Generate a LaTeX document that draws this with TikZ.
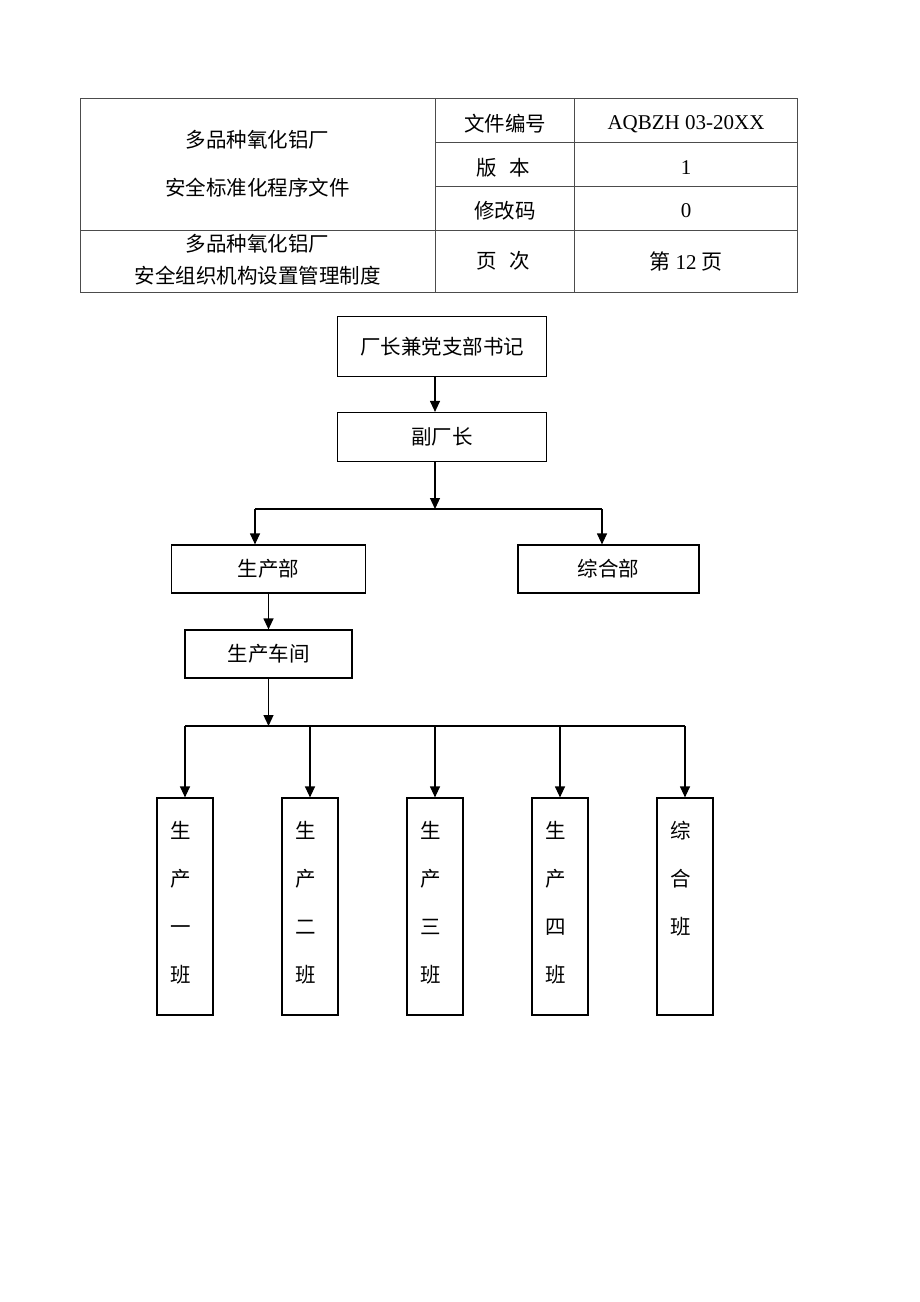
\documentclass[tikz,border=0pt]{standalone}
\usepackage{fontspec}
\setmainfont{Liberation Serif}
\newfontfamily\cjk{Noto Sans CJK SC}
\usetikzlibrary{arrows.meta}
\begin{document}
\begin{tikzpicture}[x=1pt,y=-1pt,
  box/.style={draw=black,line width=1.2pt,inner sep=0pt,font=\cjk\fontsize{20.5}{24}\selectfont},
  vbox/.style={draw=black,line width=1.2pt,inner sep=0pt,minimum width=56pt,minimum height=217pt},
  vtext/.style={anchor=north,inner sep=0pt,align=center,font=\cjk\fontsize{20.5}{48}\selectfont},
  arr/.style={line width=1.2pt,-{Triangle[length=11pt,width=10pt]}},
  conn/.style={line width=1.2pt},
  tline/.style={draw=black!70,line width=0.9pt},
  ttext/.style={inner sep=0pt,font=\cjk\fontsize{20.5}{24}\selectfont},
  ltext/.style={inner sep=0pt,font=\fontsize{21}{24}\selectfont}]
\useasboundingbox[fill=white] (0,0) rectangle (920,1302);

% header table
\draw[tline] (80,98) rectangle (797,292);
\draw[tline] (435,98) -- (435,292);
\draw[tline] (574,98) -- (574,292);
\draw[tline] (435,142) -- (797,142);
\draw[tline] (435,186) -- (797,186);
\draw[tline] (80,230) -- (797,230);

\node[ttext] (t1) at (257.5,140) {多品种氧化铝厂};
\node[ttext] (t2) at (257.5,188) {安全标准化程序文件};
\node[ttext] (t3) at (505,124) {文件编号};
\node[ltext] (t4) at (686,124) {AQBZH 03-20XX};
\node[ttext] (t5) at (503,168) {版\hspace{13pt}本};
\node[ltext] (t6) at (686,168) {1};
\node[ttext] (t7) at (505,211) {修改码};
\node[ltext] (t8) at (686,211) {0};
\node[ttext] (t9) at (257.5,244) {多品种氧化铝厂};
\node[ttext] (t10) at (257.5,276) {安全组织机构设置管理制度};
\node[ttext] (t11) at (503,261) {页\hspace{13pt}次};
\node[ltext] (t12) at (686,261) {{\cjk 第} 12 {\cjk 页}};

% org chart boxes
\node[box,minimum width=209pt,minimum height=60pt] (top) at (442,346.5) {厂长兼党支部书记};
\node[box,minimum width=209pt,minimum height=49pt] (vice) at (442,437) {副厂长};
\node[box,minimum width=194pt,minimum height=48pt] (prod) at (268.5,569) {生产部};
\node[box,minimum width=181pt,minimum height=48pt] (gen) at (608.5,569) {综合部};
\node[box,minimum width=167pt,minimum height=48pt] (ws) at (268.5,654) {生产车间};

\node[vbox] (b1) at (185,906.5) {};
\node[vbox] (b2) at (310,906.5) {};
\node[vbox] (b3) at (435,906.5) {};
\node[vbox] (b4) at (560,906.5) {};
\node[vbox] (b5) at (685,906.5) {};

\node[vtext] (v1) at ([xshift=-4pt,yshift=-24pt]b1.north) {生\\产\\一\\班};
\node[vtext] (v2) at ([xshift=-4pt,yshift=-24pt]b2.north) {生\\产\\二\\班};
\node[vtext] (v3) at ([xshift=-4pt,yshift=-24pt]b3.north) {生\\产\\三\\班};
\node[vtext] (v4) at ([xshift=-4pt,yshift=-24pt]b4.north) {生\\产\\四\\班};
\node[vtext] (v5) at ([xshift=-4pt,yshift=-24pt]b5.north) {综\\合\\班};

% connectors
\coordinate (ax) at (435,0);
\coordinate (j1) at (435,509);
\coordinate (bl) at (255,509);
\coordinate (br) at (602,509);
\coordinate (j2) at (268.5,726);

\draw[arr] (top.south -| ax) -- (vice.north -| ax);
\draw[arr] (vice.south -| ax) -- (j1);
\draw[conn] (bl) -- (br);
\draw[arr] (bl) -- (prod.north -| bl);
\draw[arr] (br) -- (gen.north -| br);
\draw[arr] (prod.south) -- (ws.north);
\draw[arr] (ws.south) -- (j2);
\draw[conn] (b1.north |- j2) -- (b5.north |- j2);
\draw[arr] (b1.north |- j2) -- (b1.north);
\draw[arr] (b2.north |- j2) -- (b2.north);
\draw[arr] (b3.north |- j2) -- (b3.north);
\draw[arr] (b4.north |- j2) -- (b4.north);
\draw[arr] (b5.north |- j2) -- (b5.north);
\end{tikzpicture}
\end{document}
